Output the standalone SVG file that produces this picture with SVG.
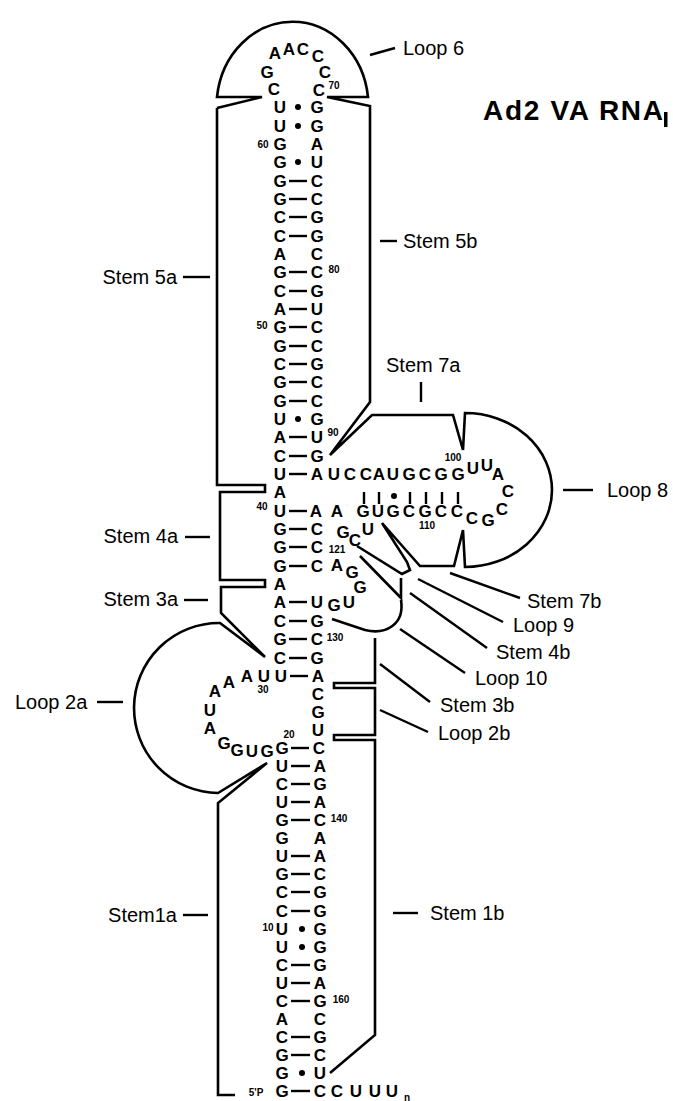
<svg xmlns="http://www.w3.org/2000/svg" width="673" height="1101" viewBox="0 0 673 1101">
<style>
.n{font-family:"Liberation Sans",Arial,sans-serif;font-size:17px;font-weight:bold;text-anchor:middle;fill:#000}
.s{font-family:"Liberation Sans",Arial,sans-serif;font-size:10px;font-weight:bold;text-anchor:middle;fill:#000}
.l{font-family:"Liberation Sans",Arial,sans-serif;font-size:20px;fill:#000}
.le{font-family:"Liberation Sans",Arial,sans-serif;font-size:20px;fill:#000;text-anchor:end}
.o{fill:none;stroke:#000;stroke-width:2.6;stroke-linejoin:miter;stroke-linecap:butt}
.p{stroke:#000;stroke-width:2.4}
.t{stroke:#000;stroke-width:2.4}
</style>
<rect width="673" height="1101" fill="#fff"/>
<g id="title"><text x="483" y="120" font-family="Liberation Sans,Arial,sans-serif" font-size="28" font-weight="bold" textLength="180" lengthAdjust="spacing">Ad2 VA RNA</text><rect x="664" y="112" width="3.5" height="15" fill="#000"/></g>

<g id="outlines">
<path class="o" d="M217,108 L262,97 L217,97 A76,85 0 0 1 368,97 L327,97 L370,106 L370,402 L330,455 L372,415 L453,415 L463,450 L465,413 A87,77 0 0 1 465,567 L463,530 L454,566 L420,566 L382,523 L407,562 L410,570 L402,574 L357,546"/>
<path class="o" d="M360,556 L401,598 L401,578"/>
<path class="o" d="M401,600 C405,625 385,635 365,630 L332,619"/>
<path class="o" d="M375,638 L375,683 L334,683 L334,688 L375,688 L375,735 L334,735 L334,740 L375,740 L375,1035 L330,1073"/>
<path class="o" d="M217,108 L217,485 L265,485 L265,492 L220,492 L220,580 L265,580 L265,587 L221,587 L221,613 L265,657 L220,623 A85,85 0 0 0 218,793 L267,763 L218,803 L218,1095 L235,1095"/>
</g>

<g id="stem-labels">
<line class="t" x1="370" y1="55" x2="395" y2="48"/><text class="l" x="403" y="55">Loop 6</text>
<line class="t" x1="380" y1="241" x2="397" y2="241"/><text class="l" x="403" y="248">Stem 5b</text>
<line class="t" x1="183" y1="277" x2="210" y2="277"/><text class="le" x="177" y="284">Stem 5a</text>
<line class="t" x1="421" y1="382" x2="421" y2="402"/><text class="l" x="386" y="372">Stem 7a</text>
<line class="t" x1="563" y1="490" x2="593" y2="490"/><text class="l" x="607" y="497">Loop 8</text>
<line class="t" x1="185" y1="537" x2="210" y2="537"/><text class="le" x="178" y="543">Stem 4a</text>
<line class="t" x1="184" y1="600" x2="208" y2="600"/><text class="le" x="178" y="606">Stem 3a</text>
<line class="t" x1="97" y1="702" x2="123" y2="702"/><text class="l" x="15" y="709">Loop 2a</text>
<line class="t" x1="183" y1="915" x2="208" y2="915"/><text class="le" x="177" y="922">Stem1a</text>
<line class="t" x1="393" y1="913" x2="418" y2="913"/><text class="l" x="430" y="920">Stem 1b</text>
<line class="t" x1="450" y1="573" x2="520" y2="598"/><text class="l" x="527" y="608">Stem 7b</text>
<line class="t" x1="418" y1="579" x2="503" y2="622"/><text class="l" x="513" y="632">Loop 9</text>
<line class="t" x1="410" y1="593" x2="487" y2="648"/><text class="l" x="496" y="659">Stem 4b</text>
<line class="t" x1="400" y1="629" x2="465" y2="673"/><text class="l" x="475" y="685">Loop 10</text>
<line class="t" x1="380" y1="664" x2="430" y2="702"/><text class="l" x="440" y="712">Stem 3b</text>
<line class="t" x1="380" y1="710" x2="428" y2="732"/><text class="l" x="438" y="740">Loop 2b</text>
</g>

<g id="loop6">
<text class="n" x="275" y="59">A</text><text class="n" x="289" y="55">A</text><text class="n" x="303" y="55">C</text><text class="n" x="318" y="62">C</text><text class="n" x="325" y="78">C</text><text class="n" x="267" y="78">G</text>
</g>

<g id="stem5">
<text class="n" x="274" y="95">C</text><text class="n" x="319" y="96">C</text><text class="s" x="334" y="89">70</text>
<text class="n" x="280" y="113">U</text><circle cx="298" cy="107" r="3"/><text class="n" x="317" y="113">G</text>
<text class="n" x="280" y="132">U</text><circle cx="298" cy="126" r="3"/><text class="n" x="317" y="132">G</text>
<text class="s" x="263" y="148">60</text><text class="n" x="280" y="150">G</text><text class="n" x="317" y="150">A</text>
<text class="n" x="280" y="168">G</text><circle cx="298" cy="162" r="3"/><text class="n" x="317" y="168">U</text>
<text class="n" x="280" y="187">G</text><line class="p" x1="289" y1="181" x2="307" y2="181"/><text class="n" x="317" y="187">C</text>
<text class="n" x="280" y="205">G</text><line class="p" x1="289" y1="199" x2="307" y2="199"/><text class="n" x="317" y="205">C</text>
<text class="n" x="280" y="223">C</text><line class="p" x1="289" y1="217" x2="307" y2="217"/><text class="n" x="317" y="223">G</text>
<text class="n" x="280" y="242">C</text><line class="p" x1="289" y1="236" x2="307" y2="236"/><text class="n" x="317" y="242">G</text>
<text class="n" x="280" y="260">A</text><text class="n" x="317" y="260">C</text>
<text class="n" x="280" y="278">G</text><line class="p" x1="289" y1="272" x2="307" y2="272"/><text class="n" x="317" y="278">C</text><text class="s" x="334" y="273">80</text>
<text class="n" x="280" y="297">C</text><line class="p" x1="289" y1="291" x2="307" y2="291"/><text class="n" x="317" y="297">G</text>
<text class="n" x="280" y="315">A</text><line class="p" x1="289" y1="309" x2="307" y2="309"/><text class="n" x="317" y="315">U</text>
<text class="s" x="262" y="329">50</text><text class="n" x="280" y="333">G</text><line class="p" x1="289" y1="327" x2="307" y2="327"/><text class="n" x="317" y="333">C</text>
<text class="n" x="280" y="352">G</text><line class="p" x1="289" y1="346" x2="307" y2="346"/><text class="n" x="317" y="352">C</text>
<text class="n" x="280" y="370">C</text><line class="p" x1="289" y1="364" x2="307" y2="364"/><text class="n" x="317" y="370">G</text>
<text class="n" x="280" y="388">G</text><line class="p" x1="289" y1="382" x2="307" y2="382"/><text class="n" x="317" y="388">C</text>
<text class="n" x="280" y="407">G</text><line class="p" x1="289" y1="401" x2="307" y2="401"/><text class="n" x="317" y="407">C</text>
<text class="n" x="280" y="425">U</text><circle cx="298" cy="419" r="3"/><text class="n" x="317" y="425">G</text>
<text class="n" x="280" y="443">A</text><line class="p" x1="289" y1="437" x2="307" y2="437"/><text class="n" x="317" y="443">U</text><text class="s" x="333" y="436">90</text>
<text class="n" x="280" y="462">C</text><line class="p" x1="289" y1="456" x2="307" y2="456"/><text class="n" x="317" y="462">G</text>
</g>

<g id="stem7">
<text class="n" x="280" y="480">U</text><line class="p" x1="289" y1="474" x2="307" y2="474"/><text class="n" x="317" y="480">A</text>
<text class="n" x="334" y="480">U</text><text class="n" x="350" y="480">C</text><text class="n" x="366" y="480">C</text><text class="n" x="379" y="480">A</text><text class="n" x="393" y="480">U</text><text class="n" x="409" y="480">G</text><text class="n" x="425" y="480">C</text><text class="n" x="441" y="480">G</text><text class="n" x="458" y="480">G</text>
<text class="s" x="453" y="461">100</text>
<text class="n" x="473" y="474">U</text><text class="n" x="487" y="471">U</text><text class="n" x="498" y="480">A</text><text class="n" x="508" y="497">C</text><text class="n" x="502" y="515">C</text><text class="n" x="488" y="526">G</text><text class="n" x="472" y="524">C</text>
<text class="n" x="280" y="498">A</text>
<line class="p" x1="364" y1="492" x2="364" y2="504"/><line class="p" x1="379" y1="492" x2="379" y2="504"/><circle cx="394" cy="496" r="3"/><line class="p" x1="410" y1="492" x2="410" y2="504"/><line class="p" x1="426" y1="492" x2="426" y2="504"/><line class="p" x1="442" y1="492" x2="442" y2="504"/><line class="p" x1="458" y1="492" x2="458" y2="504"/>
<text class="s" x="262" y="510">40</text><text class="n" x="280" y="517">U</text><line class="p" x1="289" y1="511" x2="307" y2="511"/><text class="n" x="316" y="517">A</text><text class="n" x="337" y="517">A</text>
<text class="n" x="363" y="517">G</text><text class="n" x="378" y="517">U</text><text class="n" x="393" y="517">G</text><text class="n" x="409" y="517">C</text><text class="n" x="425" y="517">G</text><text class="n" x="441" y="517">C</text><text class="n" x="457" y="517">C</text>
<text class="s" x="427" y="529">110</text>
</g>

<g id="stem4">
<text class="n" x="280" y="535">G</text><line class="p" x1="289" y1="529" x2="307" y2="529"/><text class="n" x="317" y="535">C</text>
<text class="n" x="343" y="538">G</text><text class="n" x="355" y="546">C</text><text class="n" x="368" y="535">U</text>
<text class="n" x="280" y="553">G</text><line class="p" x1="289" y1="547" x2="307" y2="547"/><text class="n" x="317" y="553">C</text><text class="s" x="337" y="553">121</text>
<text class="n" x="280" y="572">G</text><line class="p" x1="289" y1="566" x2="307" y2="566"/><text class="n" x="317" y="572">C</text>
<text class="n" x="337" y="571">A</text><text class="n" x="352" y="578">G</text><text class="n" x="360" y="593">G</text>
<text class="n" x="280" y="590">A</text>
</g>

<g id="stem3">
<text class="n" x="280" y="608">A</text><line class="p" x1="289" y1="602" x2="307" y2="602"/><text class="n" x="317" y="608">U</text><text class="n" x="334" y="611">G</text><text class="n" x="349" y="608">U</text>
<text class="n" x="280" y="627">C</text><line class="p" x1="289" y1="621" x2="307" y2="621"/><text class="n" x="317" y="627">G</text>
<text class="n" x="280" y="645">G</text><line class="p" x1="289" y1="639" x2="307" y2="639"/><text class="n" x="317" y="645">C</text><text class="s" x="335" y="641">130</text>
<text class="n" x="280" y="664">C</text><line class="p" x1="289" y1="658" x2="307" y2="658"/><text class="n" x="317" y="664">G</text>
</g>

<g id="loop2">
<text class="n" x="281" y="682">U</text><line class="p" x1="290" y1="676" x2="308" y2="676"/><text class="n" x="318" y="682">A</text>
<text class="n" x="264" y="682">U</text><text class="s" x="263" y="693">30</text>
<text class="n" x="247" y="682">A</text><text class="n" x="229" y="688">A</text><text class="n" x="215" y="697">A</text><text class="n" x="210" y="716">U</text><text class="n" x="210" y="734">A</text><text class="n" x="224" y="749">G</text><text class="n" x="237" y="756">G</text><text class="n" x="252" y="757">U</text><text class="n" x="267" y="757">G</text>
<text class="n" x="318" y="700">C</text><text class="n" x="318" y="718">G</text><text class="n" x="318" y="736">U</text>
<text class="s" x="289" y="738">20</text>
<text class="n" x="282" y="754">G</text><line class="p" x1="291" y1="748" x2="309" y2="748"/><text class="n" x="319" y="754">C</text>
</g>

<g id="stem1">
<text class="n" x="282" y="772">U</text><line class="p" x1="291" y1="766" x2="310" y2="766"/><text class="n" x="320" y="772">A</text>
<text class="n" x="282" y="790">C</text><line class="p" x1="291" y1="784" x2="310" y2="784"/><text class="n" x="320" y="790">G</text>
<text class="n" x="282" y="808">U</text><line class="p" x1="291" y1="802" x2="310" y2="802"/><text class="n" x="320" y="808">A</text>
<text class="n" x="282" y="826">G</text><line class="p" x1="291" y1="820" x2="310" y2="820"/><text class="n" x="320" y="826">C</text><text class="s" x="339" y="822">140</text>
<text class="n" x="282" y="844">G</text><text class="n" x="320" y="844">A</text>
<text class="n" x="282" y="862">U</text><line class="p" x1="291" y1="856" x2="310" y2="856"/><text class="n" x="320" y="862">A</text>
<text class="n" x="282" y="880">G</text><line class="p" x1="291" y1="874" x2="310" y2="874"/><text class="n" x="320" y="880">C</text>
<text class="n" x="282" y="898">C</text><line class="p" x1="291" y1="892" x2="310" y2="892"/><text class="n" x="320" y="898">G</text>
<text class="n" x="282" y="917">C</text><line class="p" x1="291" y1="911" x2="310" y2="911"/><text class="n" x="320" y="917">G</text>
<text class="s" x="268" y="931">10</text><text class="n" x="282" y="935">U</text><circle cx="302" cy="929" r="3"/><text class="n" x="320" y="935">G</text>
<text class="n" x="282" y="953">U</text><circle cx="302" cy="947" r="3"/><text class="n" x="320" y="953">G</text>
<text class="n" x="282" y="971">C</text><line class="p" x1="291" y1="965" x2="310" y2="965"/><text class="n" x="320" y="971">G</text>
<text class="n" x="282" y="989">U</text><line class="p" x1="291" y1="983" x2="310" y2="983"/><text class="n" x="320" y="989">A</text>
<text class="n" x="282" y="1007">C</text><line class="p" x1="291" y1="1001" x2="310" y2="1001"/><text class="n" x="320" y="1007">G</text><text class="s" x="341" y="1003">160</text>
<text class="n" x="282" y="1025">A</text><text class="n" x="320" y="1025">C</text>
<text class="n" x="282" y="1043">C</text><line class="p" x1="291" y1="1037" x2="310" y2="1037"/><text class="n" x="320" y="1043">G</text>
<text class="n" x="282" y="1061">G</text><line class="p" x1="291" y1="1055" x2="310" y2="1055"/><text class="n" x="320" y="1061">C</text>
<text class="n" x="282" y="1079">G</text><circle cx="302" cy="1073" r="3"/><text class="n" x="320" y="1079">U</text>
<text class="s" x="256" y="1096" font-size="11">5'P</text><text class="n" x="282" y="1097">G</text><line class="p" x1="291" y1="1091" x2="310" y2="1091"/><text class="n" x="320" y="1097">C</text>
<text class="n" x="337" y="1097">C</text><text class="n" x="356" y="1097">U</text><text class="n" x="375" y="1097">U</text><text class="n" x="392" y="1097">U</text><text class="s" x="407" y="1101">n</text>
</g>
</svg>
